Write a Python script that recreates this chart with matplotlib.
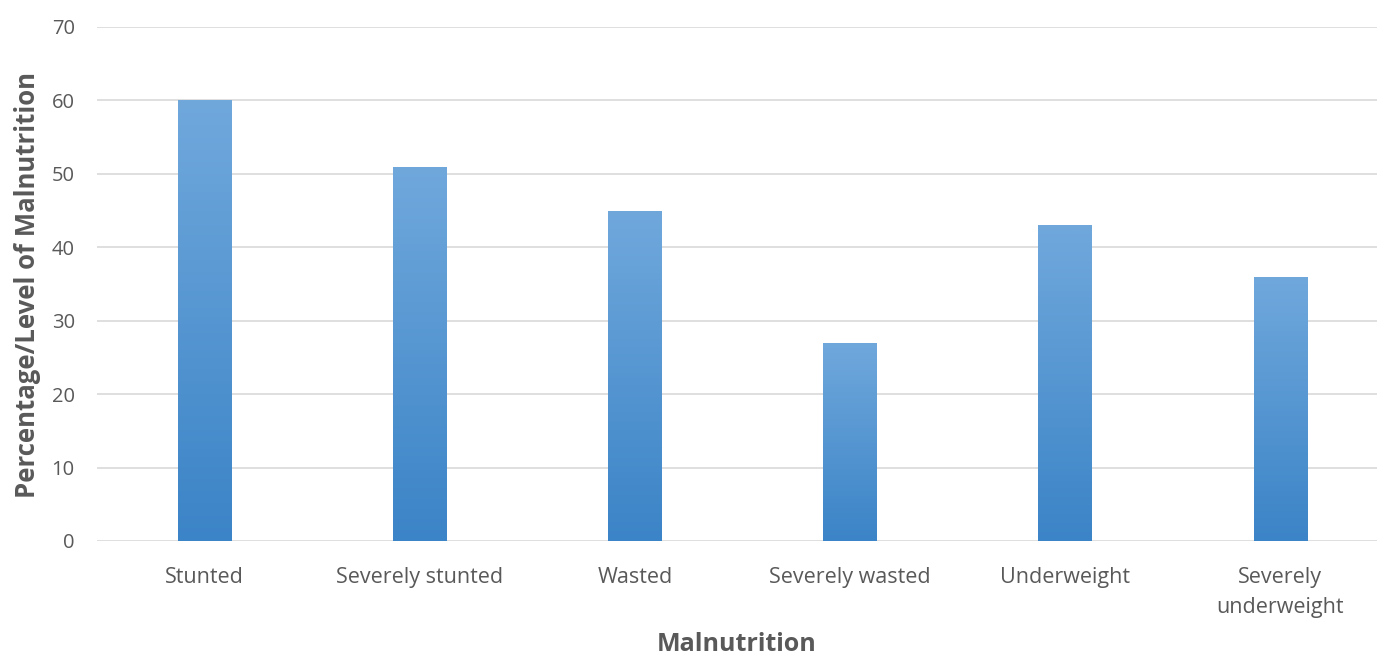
import matplotlib
matplotlib.use("Agg")
import matplotlib.pyplot as plt
import numpy as np
from matplotlib.colors import LinearSegmentedColormap

categories = ["Stunted", "Severely stunted", "Wasted", "Severely wasted",
              "Underweight", "Severely\nunderweight"]
values = [60, 51, 45, 27, 43, 36]
y_ticks = [0, 10, 20, 30, 40, 50, 60, 70]

plt.rcParams['font.family'] = ['Open Sans', 'DejaVu Sans']

fig = plt.figure(figsize=(13.77, 6.56), dpi=100)
ax = fig.add_axes([97/1377, (656-541)/656, 1 - 97/1377, (541-27)/656])

x = np.arange(len(categories))
bars = ax.bar(x, values, width=0.247, color="none", edgecolor="none", zorder=3)

# gradient fill
grad = np.linspace(0, 1, 256).reshape(-1, 1)
cmap = LinearSegmentedColormap.from_list("g", ["#3b84c7", "#70a8dc"])
for b in bars:
    x0, y0 = b.get_x(), b.get_y()
    w, h = b.get_width(), b.get_height()
    im = ax.imshow(grad, extent=[x0, x0 + w, y0, y0 + h], origin="lower",
                   cmap=cmap, aspect="auto", zorder=3)
    im.set_clip_path(b)
ax.set_xlim(-0.5, 5.45)
ax.set_ylim(0, 70)

ax.set_yticks(y_ticks)
ax.set_xticks(x)
ax.set_xticklabels(categories, fontsize=15.5, color="#595959", linespacing=1.55)
ax.tick_params(axis="y", labelsize=14.5, labelcolor="#595959", length=0, pad=16)
ax.tick_params(axis="x", length=0, pad=19)
ax.yaxis.grid(True, color="#d9d9d9", linewidth=1.2, zorder=0)
ax.set_axisbelow(True)
for s in ax.spines.values():
    s.set_visible(False)

ax.set_ylabel("Percentage/Level of Malnutrition", fontsize=18.5, fontweight="bold",
              color="#595959", va="center")
ax.yaxis.set_label_coords(-0.0545, 0.498)
ax.set_xlabel("Malnutrition", fontsize=18, fontweight="bold", color="#595959",
              va="center")
ax.xaxis.set_label_coords(0.5, -0.2015)

fig.savefig("out.png", dpi=100)
